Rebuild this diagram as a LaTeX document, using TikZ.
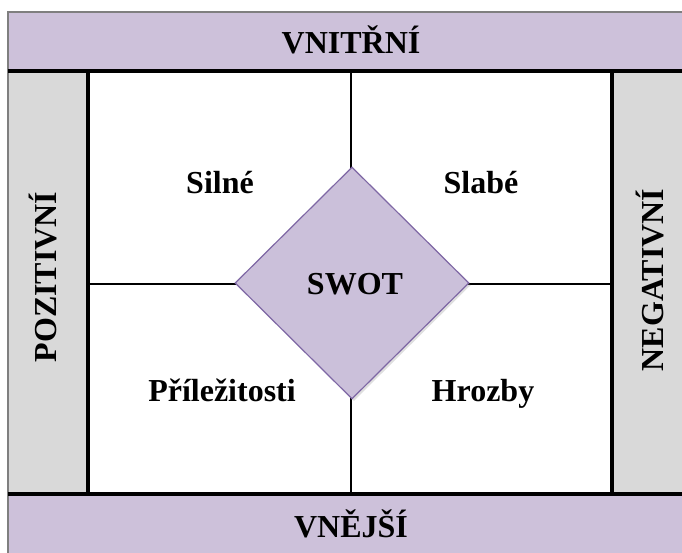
\documentclass[tikz,border=0pt]{standalone}
\usepackage{fontspec}
\setmainfont{Liberation Serif}
\usetikzlibrary{shapes.geometric,shadows}
\definecolor{bandpurple}{HTML}{CDC1DA}
\definecolor{sidegray}{HTML}{D9D9D9}
\definecolor{edgegray}{HTML}{7F7F7F}
\definecolor{swotfill}{HTML}{CBC0DA}
\definecolor{swotedge}{HTML}{7E67A4}
\tikzset{
  band/.style={draw=edgegray, line width=1.2pt, fill=bandpurple},
  side/.style={draw=edgegray, line width=1.2pt, fill=sidegray},
  heavy/.style={line width=4pt, black},
  divider/.style={line width=1.6pt, black},
  lbl/.style={font=\fontsize{32}{37}\selectfont\bfseries, inner sep=0pt, anchor=base},
  swot/.style={diamond, draw=swotedge, line width=1.2pt, fill=swotfill,
    minimum width=234pt, minimum height=232pt, inner sep=0pt,
    drop shadow={opacity=0.25, shadow xshift=2pt, shadow yshift=-2pt}}
}
\begin{document}
\begin{tikzpicture}[x=1pt,y=-1pt]
\useasboundingbox (0,0) rectangle (682,552);
\clip (0,0) rectangle (682,552);

% frame corners
\coordinate (tl) at (8,12);
\coordinate (br) at (692,562);
\coordinate (innertl) at (88,71);
\coordinate (innerbr) at (612,494);

% white inner field
\fill[white] (innertl) rectangle (innerbr);

% top and bottom bands, side columns
\draw[band] (tl) rectangle (692,71);
\draw[band] (8,494) rectangle (br);
\draw[side] (8,71) rectangle (innertl |- innerbr);
\draw[side] (innerbr |- innertl) rectangle (692,494);

% quadrant dividers
\coordinate (vtop) at (351,71);
\coordinate (vbot) at (351,494);
\coordinate (hleft) at (88,284);
\coordinate (hright) at (612,284);
\draw[divider] (vtop) -- (vbot);
\draw[divider] (hleft) -- (hright);

% heavy black rules
\draw[heavy] (8,71) -- (692,71);
\draw[heavy] (8,494) -- (692,494);
\draw[heavy] (innertl) -- (innertl |- innerbr);
\draw[heavy] (innerbr |- innertl) -- (innerbr);

% central diamond
\node[swot] (swot) at (352,283) {};
\node[lbl] (swotlbl) at (355,294) {SWOT};

% band labels
\node[lbl] (vnitrni) at (351,53) {VNITŘNÍ};
\node[lbl] (vnejsi) at (351,537) {VNĚJŠÍ};
\node[lbl, rotate=90] (pozitivni) at (56,277) {POZITIVNÍ};
\node[lbl, rotate=90] (negativni) at (663,280) {NEGATIVNÍ};

% quadrant labels
\node[lbl] (silne) at (220,193) {Silné};
\node[lbl] (slabe) at (481,193) {Slabé};
\node[lbl] (prilezitosti) at (222,401) {Příležitosti};
\node[lbl] (hrozby) at (483,401) {Hrozby};
\end{tikzpicture}
\end{document}
